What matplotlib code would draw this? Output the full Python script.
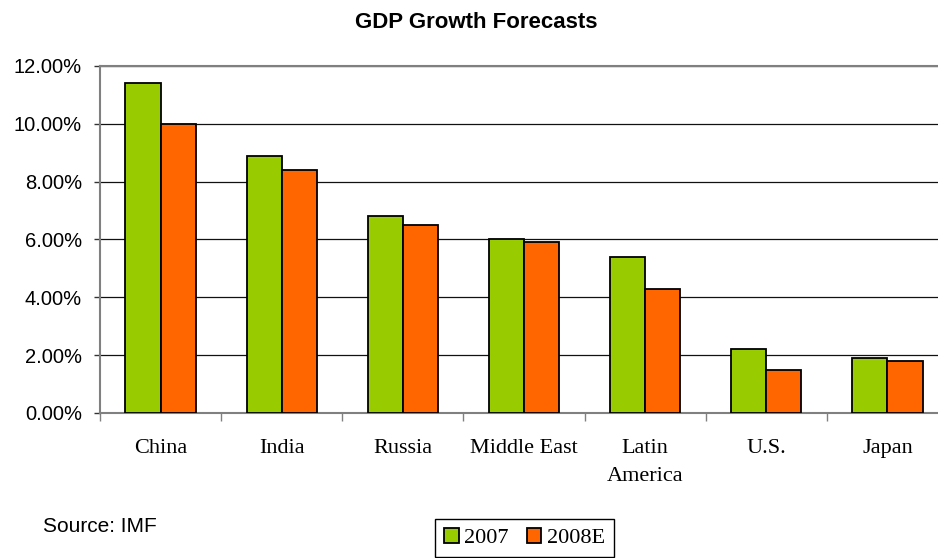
import numpy as np
import matplotlib
matplotlib.use('Agg')
import matplotlib.pyplot as plt
from matplotlib.ticker import FuncFormatter, FixedLocator

plt.rcParams['font.family'] = 'Liberation Sans'

regions = ['China', 'India', 'Russia', 'Middle East', 'Latin\nAmerica', 'U.S.', 'Japan']
growth_2007 = [11.4, 8.9, 6.8, 6.0, 5.4, 2.2, 1.9]
growth_2008e = [10.0, 8.4, 6.5, 5.9, 4.3, 1.5, 1.8]
series_labels = ['2007', '2008E']
y_ticks = [0, 2, 4, 6, 8, 10, 12]

green = '#99CC00'
orange = '#FF6600'

fig = plt.figure(figsize=(9.38, 5.58), dpi=100)
ax = fig.add_axes([100 / 938, 145 / 558, 848 / 938, 347 / 558])

x = np.arange(len(regions))
w = 0.29
b1 = ax.bar(x - w / 2, growth_2007, w, color=green, edgecolor='black', linewidth=1.3, zorder=3)
b2 = ax.bar(x + w / 2, growth_2008e, w, color=orange, edgecolor='black', linewidth=1.3, zorder=3)

ax.set_xlim(-0.5, len(regions) - 0.5)
ax.set_ylim(0, 12)
ax.set_yticks(y_ticks)
ax.yaxis.set_major_formatter(FuncFormatter(lambda v, p: f"{v:.2f}%"))
ax.tick_params(axis='y', labelsize=14.5, length=4, width=1, color='#333333', pad=9)
ax.yaxis.grid(True, color='#111111', linewidth=0.9, zorder=0)

# category labels centred, tick marks on the boundaries
ax.set_xticks(x)
ax.set_xticklabels(regions, family='Liberation Serif', fontsize=16, linespacing=1.6)
ax.tick_params(axis='x', which='major', length=0, pad=19)
ax.xaxis.set_minor_locator(FixedLocator(np.arange(-0.5, len(regions), 1.0)))
ax.tick_params(axis='x', which='minor', length=6, width=1, color='#808080')

for side in ['left', 'bottom', 'top']:
    ax.spines[side].set_color('#808080')
    ax.spines[side].set_linewidth(1.5)
ax.spines['right'].set_visible(False)

fig.text(476 / 938, 1 - 22 / 558, 'GDP Growth Forecasts', ha='center', va='center',
         fontsize=16, fontweight='bold')
fig.text(43 / 938, 1 - 527 / 558, 'Source: IMF', ha='left', va='center', fontsize=15)

leg = fig.legend([b1, b2], series_labels, loc='upper center', bbox_to_anchor=(524.5 / 938, 1 - 519 / 558),
                 ncol=2, prop={'family': 'Liberation Serif', 'size': 16},
                 handlelength=0.65, handleheight=0.65, handletextpad=0.25, columnspacing=0.8,
                 borderpad=0.4, borderaxespad=0, fancybox=False, framealpha=1)
leg.get_frame().set_edgecolor('black')
leg.get_frame().set_linewidth(1.0)

fig.savefig('out.png', dpi=100)
